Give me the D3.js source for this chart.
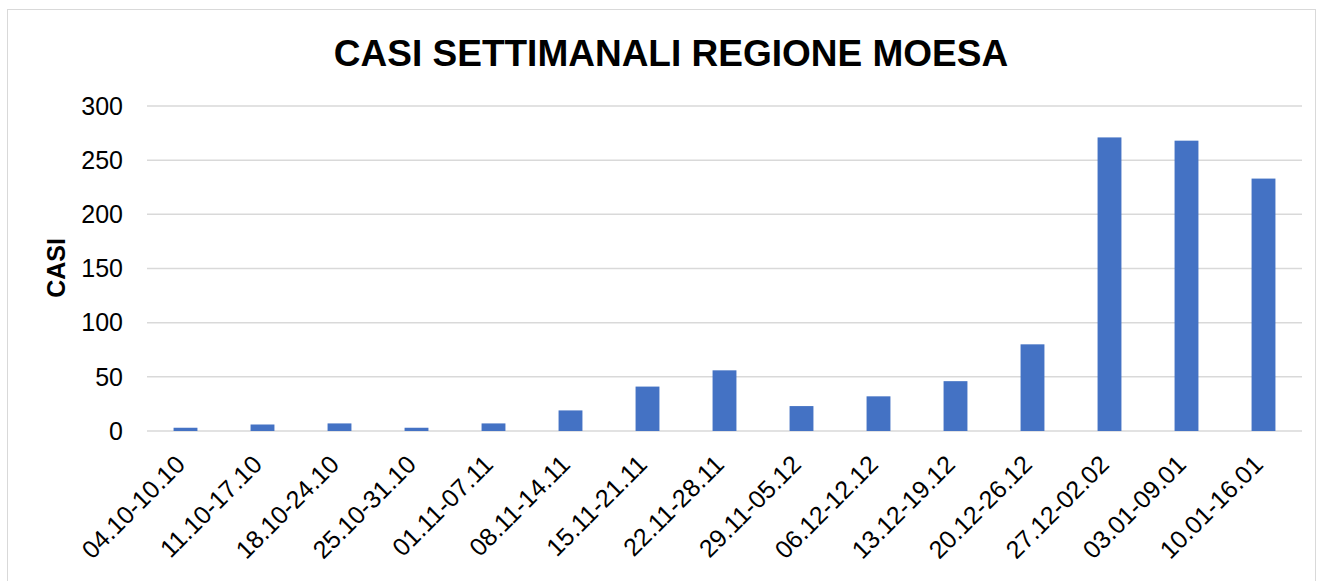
<!DOCTYPE html>
<html>
<head>
<meta charset="utf-8">
<script src="https://cdn.jsdelivr.net/npm/d3@7.9.0/dist/d3.min.js"></script>
<style>
  body { margin: 0; background: #fff; }
  svg { font-family: "Liberation Sans", Arial, sans-serif; }
</style>
</head>
<body>
<div id="chart"></div>
<script>
const weeks = ["04.10-10.10", "11.10-17.10", "18.10-24.10", "25.10-31.10", "01.11-07.11",
  "08.11-14.11", "15.11-21.11", "22.11-28.11", "29.11-05.12", "06.12-12.12",
  "13.12-19.12", "20.12-26.12", "27.12-02.02", "03.01-09.01", "10.01-16.01"];
const cases = [3, 6, 7, 3, 7, 19, 41, 56, 23, 32, 46, 80, 271, 268, 233];
const yTicks = [0, 50, 100, 150, 200, 250, 300];

const width = 1322;
const height = 581;

const svg = d3.select('#chart')
  .append('svg')
  .attr('width', width)
  .attr('height', height);

// chart frame
svg.append('rect')
  .attr('x', 7.5).attr('y', 9.5)
  .attr('width', 1308).attr('height', 580)
  .attr('fill', 'none')
  .attr('stroke', '#d9d9d9')
  .attr('stroke-width', 1);

const area = { left: 147, right: 1302, top: 106, bottom: 431 };

const x = d3.scaleBand()
  .domain(weeks)
  .range([area.left, area.right])
  .paddingInner(0.69)
  .paddingOuter(0.345);

const y = d3.scaleLinear()
  .domain([0, 300])
  .range([area.bottom, area.top]);

// gridlines
svg.append('g')
  .selectAll('line')
  .data(yTicks)
  .join('line')
  .attr('x1', area.left).attr('x2', area.right)
  .attr('y1', d => y(d)).attr('y2', d => y(d))
  .attr('stroke', '#d9d9d9')
  .attr('stroke-width', 1.5);

// y tick labels
svg.append('g')
  .selectAll('text')
  .data(yTicks)
  .join('text')
  .attr('x', 123)
  .attr('y', d => y(d))
  .attr('dy', '0.35em')
  .attr('text-anchor', 'end')
  .attr('font-size', 25)
  .attr('fill', '#000')
  .text(d => d);

// bars
svg.append('g')
  .selectAll('rect')
  .data(cases)
  .join('rect')
  .attr('x', (d, i) => x(weeks[i]))
  .attr('y', d => y(d))
  .attr('width', x.bandwidth())
  .attr('height', d => y(0) - y(d))
  .attr('fill', '#4472C4');

// x labels
svg.append('g')
  .selectAll('text')
  .data(weeks)
  .join('text')
  .attr('transform', d => `translate(${x(d) + x.bandwidth() / 2 + 1}, 466) rotate(-45)`)
  .attr('text-anchor', 'end')
  .attr('font-size', 25)
  .attr('fill', '#000')
  .text(d => d);

// title
svg.append('text')
  .attr('x', 671)
  .attr('y', 66)
  .attr('text-anchor', 'middle')
  .attr('font-size', 37)
  .attr('font-weight', 'bold')
  .text('CASI SETTIMANALI REGIONE MOESA');

// y axis title
svg.append('text')
  .attr('transform', 'translate(65, 268) rotate(-90)')
  .attr('text-anchor', 'middle')
  .attr('font-size', 25)
  .attr('font-weight', 'bold')
  .text('CASI');
</script>
</body>
</html>
